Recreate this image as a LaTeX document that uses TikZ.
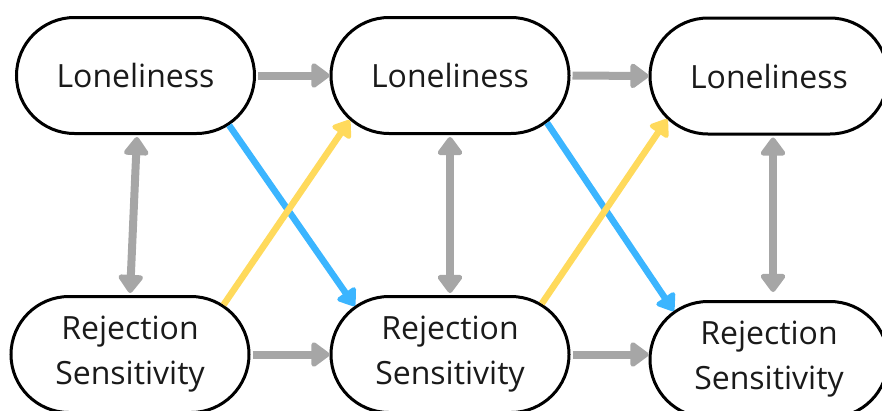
\documentclass[tikz,border=0pt]{standalone}
\usepackage{fontspec}
\setmainfont{Open Sans}
\usetikzlibrary{shapes.misc,arrows.meta}
\definecolor{grayarr}{HTML}{A6A6A6}
\definecolor{bluearr}{HTML}{3BB5FF}
\definecolor{yelarr}{HTML}{FFDA5C}
\definecolor{txt}{HTML}{1A1A1A}
\tikzset{
  pill/.style={draw=black, line width=3pt, fill=white, rounded rectangle,
    minimum width=238pt, minimum height=116pt, inner sep=0pt, align=center,
    text=txt, font=\fontsize{32}{45}\selectfont},
  grayarrow/.style={draw=grayarr, line width=8pt, -{Triangle[width=28pt,length=20pt,round]}},
  graydbl/.style={draw=grayarr, line width=8pt, {Triangle[width=28pt,length=20pt,round]}-{Triangle[width=28pt,length=20pt,round]}},
  bluearrow/.style={draw=bluearr, line width=6.5pt, -{Triangle[width=25pt,length=18pt,round]}},
  yelarrow/.style={draw=yelarr, line width=6.5pt, -{Triangle[width=25pt,length=18pt,round]}},
}
\begin{document}
\begin{tikzpicture}[x=1pt,y=-1pt]
\useasboundingbox (0,0) rectangle (882,410);
\clip (0,0) rectangle (882,410);
\node[pill] (L1) at (135.5,75.5) {Loneliness};
\node[pill] (L2) at (450,75.5) {Loneliness};
\node[pill] (L3) at (769,76) {Loneliness};
\node[pill] (R1) at (130,354.5) {\raisebox{-3pt}{Rejection}\\\raisebox{-3pt}{Sensitivity}};
\node[pill] (R2) at (450,354.5) {\raisebox{-3pt}{Rejection}\\\raisebox{-3pt}{Sensitivity}};
\node[pill] (R3) at (769,359.5) {\raisebox{-3pt}{Rejection}\\\raisebox{-3pt}{Sensitivity}};
\coordinate (R3w) at (R3.west |- R2.east);
% horizontal
\draw[grayarrow, shorten <=2pt] (L1.east) -- (L2.west);
\draw[grayarrow, shorten <=2pt] (L2.east) -- (L3.west);
\draw[grayarrow, shorten <=2pt] (R1.east) -- (R2.west);
\draw[grayarrow, shorten <=2pt] (R2.east) -- (R3w);
% vertical
\draw[graydbl, shorten <=2pt, shorten >=2pt] ([xshift=1.5pt]L1.south) -- (R1.north);
\draw[graydbl, shorten <=2pt, shorten >=2pt] (L2.south) -- (R2.north);
\draw[graydbl, shorten <=2pt, shorten >=8pt] ([xshift=4pt]L3.south) -- ([xshift=4pt]R3.north);
% diagonals
\draw[bluearrow] (L1.-28) -- (R2.153);
\draw[bluearrow] (L2.-26) -- (R3.153);
\draw[yelarrow] (R1.28) -- (L2.204);
\draw[yelarrow] (R2.29.5) -- (L3.203);
\end{tikzpicture}
\end{document}
